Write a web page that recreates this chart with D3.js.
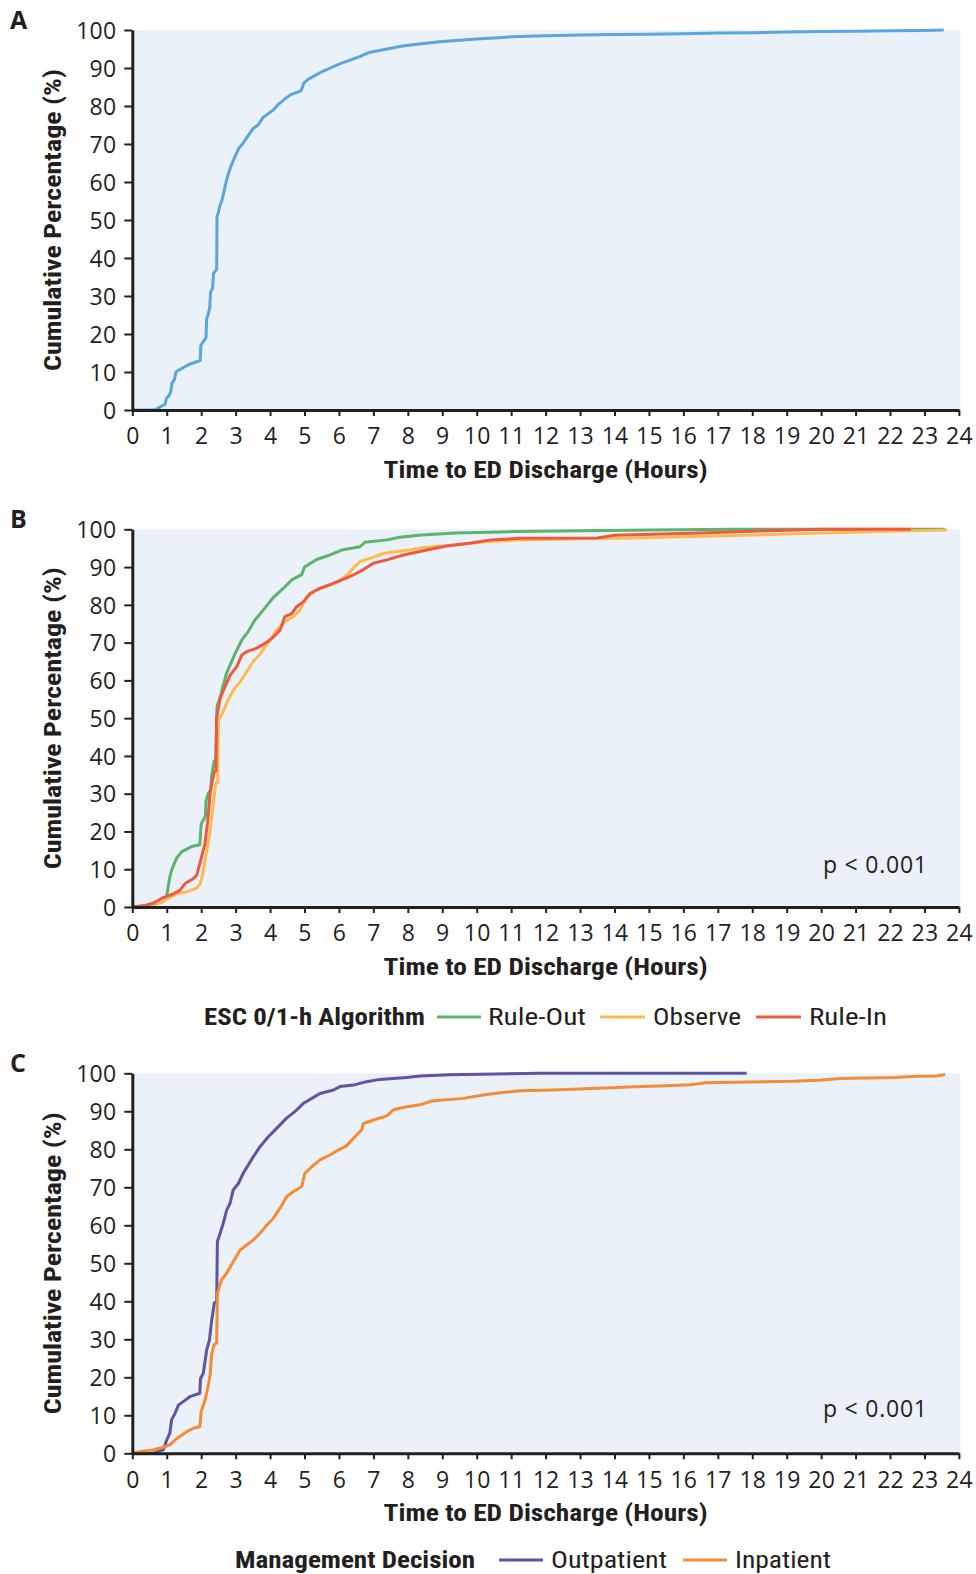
<!DOCTYPE html>
<html>
<head>
<meta charset="utf-8">
<script src="https://cdn.jsdelivr.net/npm/d3@7"></script>
<style>
  html, body { margin: 0; padding: 0; background: #fff; }
  svg { display: block; }
</style>
</head>
<body>
<svg id="chart" width="976" height="1574"></svg>
<script>
// ---------- DATA ----------
const xTicks = d3.range(0, 25);           // hours 0..24
const yTicks = [0, 10, 20, 30, 40, 50, 60, 70, 80, 90, 100];
const xTitle = "Time to ED Discharge (Hours)";
const yTitle = "Cumulative Percentage (%)";
const panelLabels = ["A", "B", "C"];
const pValueText = "p < 0.001";

// Panel A: all patients [hours, cumulative %]
const allPatients = [
  [0,0],[0.66,0],[0.75,0.5],[0.85,1],[0.95,1.5],[0.99,3],[1.08,4],[1.12,5],[1.15,7],[1.22,8],[1.27,10],
  [1.35,10.5],[1.45,11],[1.55,11.5],[1.65,12],[1.8,12.5],[1.97,13],[1.99,17],[2.06,18],[2.14,19],[2.16,24],
  [2.2,25],[2.25,27],[2.27,31],[2.33,32],[2.36,36],[2.45,37],[2.46,51],[2.5,52],[2.55,54],[2.6,55],[2.65,57],
  [2.7,59],[2.75,61],[2.82,63],[2.9,65],[3.0,67],[3.1,69],[3.2,70],[3.35,72],[3.5,74],[3.65,75],[3.8,77],
  [3.95,78],[4.1,79],[4.25,80.5],[4.45,82],[4.6,83],[4.9,84],[4.98,86],[5.1,87],[5.3,88],[5.5,89],[5.75,90],
  [6.0,91],[6.3,92],[6.6,93],[6.85,94],[7.1,94.5],[7.4,95],[7.8,95.7],[8.2,96.2],[8.6,96.6],[9.0,97],
  [9.5,97.3],[10,97.6],[10.5,97.9],[11,98.2],[12,98.5],[13,98.7],[14,98.8],[15,98.9],[16,99],[17,99.2],
  [18,99.3],[19,99.5],[20,99.6],[21,99.7],[22,99.8],[23,99.9],[23.56,100]
];

// Panel B: ESC 0/1-h algorithm groups
const ruleOut = [
  [0,0],[0.6,0.5],[0.9,1.5],[1.0,3],[1.09,8],[1.15,10],[1.29,13],[1.43,14.6],[1.72,16],[1.96,16.5],[2.0,22],
  [2.12,24],[2.14,28],[2.2,30],[2.28,31],[2.3,34.5],[2.38,38.7],[2.42,39],[2.46,53],[2.55,55.6],[2.74,62],
  [2.98,67],[3.18,70.7],[3.37,73],[3.56,76],[3.8,78.6],[4.1,82],[4.39,84.4],[4.63,86.6],[4.92,88],[5.0,90],
  [5.35,92],[5.74,93.2],[6.08,94.5],[6.61,95.4],[6.76,96.6],[7.4,97.2],[7.7,97.8],[8.4,98.5],[9.4,99],
  [11.1,99.4],[13,99.6],[15,99.8],[17.5,100],[23.6,100]
];
const observe = [
  [0,0],[0.6,0.5],[1.0,2],[1.29,3.5],[1.58,4],[1.87,5],[1.96,6],[2.04,8.4],[2.1,11.5],[2.24,19],[2.33,25.6],
  [2.42,32.7],[2.48,33],[2.5,49.5],[2.6,51],[2.74,54],[2.93,57.4],[3.13,59.6],[3.32,62.3],[3.51,65],[3.71,67],
  [3.95,70],[4.19,73.3],[4.43,75.5],[4.68,76.9],[4.87,78.6],[5.06,82],[5.35,84],[5.74,85.2],[6.13,87],
  [6.32,88.8],[6.6,91.4],[6.9,92.3],[7.29,93.6],[7.58,94],[8.06,94.5],[8.45,95.2],[9.03,95.6],[9.8,96.3],
  [10.3,96.7],[11.26,97.2],[13,97.5],[14.5,97.7],[16,98],[18,98.5],[20,99],[22,99.5],[23.65,99.8]
];
const ruleIn = [
  [0,0],[0.32,0.3],[0.6,1],[0.9,2.5],[1.19,3.5],[1.38,4.4],[1.53,6.2],[1.77,7.5],[1.87,8.4],[1.96,11.5],
  [2.11,16.8],[2.18,22],[2.27,31],[2.38,35.8],[2.43,36],[2.45,50.3],[2.55,55.2],[2.69,58.3],[2.84,61.4],
  [3.03,63.6],[3.18,66.7],[3.32,67.6],[3.61,68.5],[3.85,69.8],[4.05,71.1],[4.29,73.3],[4.43,76.9],[4.63,77.7],
  [4.77,79.5],[4.97,80.8],[5.16,83],[5.45,84.4],[5.84,85.7],[6.32,87.5],[6.61,88.8],[7.0,91],[7.39,91.9],
  [7.87,93.2],[8.55,94.5],[9.13,95.6],[9.8,96.3],[10.4,97.2],[11.26,97.6],[13.5,97.7],[14,98.4],[16.5,99],
  [18,99.5],[20,100],[22.6,100]
];

// Panel C: management decision groups
const outpatient = [
  [0,0],[0.6,0],[0.9,0.9],[1.0,3.5],[1.09,5.3],[1.14,8.8],[1.24,10.5],[1.34,12.7],[1.48,13.6],[1.67,14.9],
  [1.96,15.8],[1.98,19.7],[2.06,21],[2.16,27.2],[2.24,29.8],[2.3,34.6],[2.38,39.5],[2.45,40],[2.47,55.7],
  [2.55,57.9],[2.64,60.5],[2.74,64],[2.84,65.8],[2.93,69.3],[3.08,71],[3.22,73.7],[3.37,75.9],[3.51,78],
  [3.71,80.7],[3.95,83.3],[4.19,85.5],[4.48,88.2],[4.72,89.9],[4.97,92.1],[5.21,93.4],[5.45,94.7],[5.84,95.6],
  [6.03,96.5],[6.42,96.9],[6.8,97.8],[7.19,98.4],[7.97,98.9],[8.35,99.3],[9.2,99.6],[11.82,100],[17.84,100]
];
const inpatient = [
  [0,0],[0.22,0.4],[0.6,0.9],[0.9,1.6],[1.09,2.2],[1.29,3.9],[1.58,5.7],[1.77,6.6],[1.96,7],[2.0,11],
  [2.11,14],[2.18,16.7],[2.26,20.6],[2.3,25.9],[2.37,28.5],[2.45,29],[2.47,42.1],[2.59,45.6],[2.74,47.4],
  [2.93,50.4],[3.13,53.5],[3.32,54.8],[3.51,56.1],[3.71,57.9],[3.9,60],[4.09,61.8],[4.29,64.5],[4.48,67.5],
  [4.68,68.9],[4.92,70.2],[5.01,73.7],[5.21,75.4],[5.45,77.2],[5.74,78.5],[5.98,79.8],[6.22,80.9],[6.42,82.9],
  [6.66,85.1],[6.71,86.8],[7.0,87.7],[7.39,88.8],[7.58,90.4],[7.97,91.2],[8.35,91.7],[8.69,92.7],[9.61,93.4],
  [10.19,94.3],[10.68,94.9],[11.26,95.4],[12.2,95.6],[12.8,95.8],[13.3,96],[13.92,96.2],[14.4,96.4],
  [15.5,96.7],[16.2,97],[16.5,97.3],[16.63,97.5],[19.2,97.9],[19.92,98.2],[20.55,98.6],[22.15,98.9],
  [22.8,99.2],[23.35,99.3],[23.6,99.7]
];

// legend labels
const legendBTitle = "ESC 0/1-h Algorithm";
const legendBNames = ["Rule-Out", "Observe", "Rule-In"];
const legendCTitle = "Management Decision";
const legendCNames = ["Outpatient", "Inpatient"];

// ---------- STYLE ----------
const REG = "'Open Sans','Noto Sans','Liberation Sans',sans-serif";
const COND = "'Roboto Condensed','DejaVu Sans Condensed','Liberation Sans',sans-serif";
const INK = "#231f20";
const BG = "#eaf1f9";
const COL = {
  all: "#58a6dc",
  ruleOut: "#5bb36c",
  observe: "#fdba4f",
  ruleIn: "#ee5a40",
  outpatient: "#5d55a2",
  inpatient: "#f68b36"
};

const svg = d3.select("#chart");
svg.append("rect").attr("width", 976).attr("height", 1574).attr("fill", "#fff");

const x = d3.scaleLinear().domain([0, 24]).range([132.3, 958.9]);
const line = (y) => d3.line().x(d => x(d[0])).y(d => y(d[1])).curve(d3.curveLinear);

function condText(sel, size, weight) {
  return sel.style("font-family", COND).style("font-weight", weight).style("font-size", size + "px");
}

function drawPanel(top, bottom, label, series, pText, pBaseline) {
  const y = d3.scaleLinear().domain([0, 100]).range([bottom, top]);
  const g = svg.append("g");

  g.append("rect")
    .attr("x", x(0)).attr("y", y(100))
    .attr("width", x(24) - x(0) + 1.5).attr("height", y(0) - y(100))
    .attr("fill", BG);

  series.forEach(s => {
    g.append("path")
      .datum(s.data)
      .attr("d", line(y))
      .attr("fill", "none")
      .attr("stroke", s.color)
      .attr("stroke-width", 3)
      .attr("stroke-linejoin", "round");
  });

  const ya = g.append("g").attr("transform", `translate(${x(0)},0)`)
    .call(d3.axisLeft(y).tickValues(yTicks).tickSize(8).tickSizeOuter(0).tickPadding(8));
  const xa = g.append("g").attr("transform", `translate(0,${y(0)})`)
    .call(d3.axisBottom(x).tickValues(xTicks).tickSize(6).tickSizeOuter(0).tickPadding(12));

  [ya, xa].forEach(a => {
    a.select(".domain").attr("stroke", INK).attr("stroke-width", 3);
    a.selectAll(".tick line").attr("stroke", INK).attr("stroke-width", 2);
    a.selectAll(".tick text")
      .attr("fill", INK)
      .style("font-family", REG)
      .style("font-size", "23px")
      .style("letter-spacing", "0.2px");
  });
  ya.selectAll(".tick text").attr("dy", "0.36em");

  condText(g.append("text"), 23, "bold")
    .attr("x", (x(0) + x(24)) / 2).attr("y", y(0) + 68)
    .attr("text-anchor", "middle")
    .attr("textLength", 324).attr("lengthAdjust", "spacingAndGlyphs")
    .attr("fill", INK)
    .text(xTitle);

  condText(g.append("text"), 23, "bold")
    .attr("transform", `translate(61,${(y(0) + y(100)) / 2}) rotate(-90)`)
    .attr("text-anchor", "middle")
    .attr("textLength", 302).attr("lengthAdjust", "spacingAndGlyphs")
    .attr("fill", INK)
    .text(yTitle);

  g.append("text")
    .attr("x", 10).attr("y", y(100) - 1)
    .style("font-family", REG).style("font-weight", "bold").style("font-size", "25px")
    .attr("fill", INK)
    .text(label);

  if (pText) {
    g.append("text")
      .attr("x", 823).attr("y", pBaseline)
      .attr("textLength", 104).attr("lengthAdjust", "spacing")
      .style("font-family", REG).style("font-size", "23px")
      .attr("fill", INK)
      .text(pText);
  }
  return y;
}

drawPanel(30, 410, panelLabels[0], [{ data: allPatients, color: COL.all }]);
drawPanel(529.3, 907, panelLabels[1], [
  { data: ruleOut, color: COL.ruleOut },
  { data: observe, color: COL.observe },
  { data: ruleIn, color: COL.ruleIn }
], pValueText, 873);
drawPanel(1073.3, 1453.3, panelLabels[2], [
  { data: outpatient, color: COL.outpatient },
  { data: inpatient, color: COL.inpatient }
], pValueText, 1417);

// ---------- LEGENDS ----------
function legend(baseline, title, titleX, titleW, items) {
  const g = svg.append("g");
  condText(g.append("text"), 23, "bold")
    .attr("x", titleX).attr("y", baseline)
    .attr("textLength", titleW).attr("lengthAdjust", "spacingAndGlyphs")
    .attr("fill", INK).text(title);
  items.forEach(it => {
    g.append("line")
      .attr("x1", it.x1).attr("x2", it.x2)
      .attr("y1", baseline - 8).attr("y2", baseline - 8)
      .attr("stroke", it.color).attr("stroke-width", 3);
    condText(g.append("text"), 23, "normal")
      .attr("x", it.tx).attr("y", baseline)
      .attr("textLength", it.tw).attr("lengthAdjust", "spacingAndGlyphs")
      .attr("fill", INK).text(it.name);
  });
}

legend(1025, legendBTitle, 204, 221, [
  { name: legendBNames[0], color: COL.ruleOut, x1: 437, x2: 481, tx: 488, tw: 98 },
  { name: legendBNames[1], color: COL.observe, x1: 600, x2: 645, tx: 653, tw: 88 },
  { name: legendBNames[2], color: COL.ruleIn, x1: 756, x2: 801, tx: 809, tw: 78 }
]);
legend(1568, legendCTitle, 235, 240, [
  { name: legendCNames[0], color: COL.outpatient, x1: 499, x2: 543, tx: 551, tw: 116 },
  { name: legendCNames[1], color: COL.inpatient, x1: 683, x2: 727, tx: 735, tw: 96 }
]);
</script>
</body>
</html>
